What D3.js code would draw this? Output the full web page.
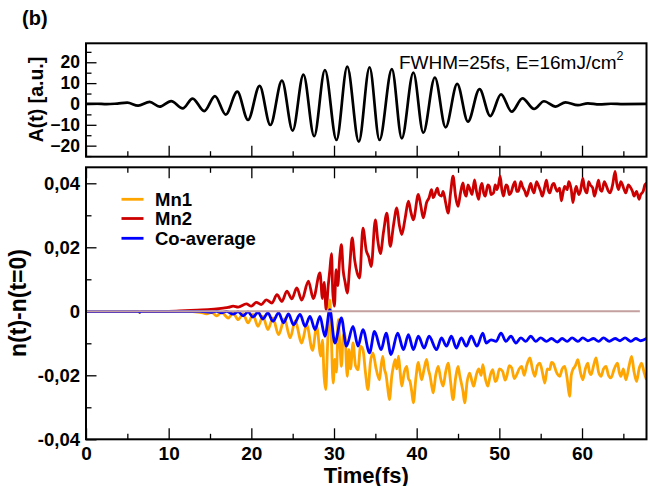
<!DOCTYPE html>
<html>
<head>
<meta charset="utf-8">
<script src="https://cdn.jsdelivr.net/npm/d3@7"></script>
<style>
  body { margin: 0; background: #fff; }
  svg { display: block; font-family: "Liberation Sans", Arial, sans-serif; }
</style>
</head>
<body>
<div id="chart"></div>
<script>
// ---- data ----
const timeMajor = [0, 10, 20, 30, 40, 50, 60];
const timeMinor = [5, 15, 25, 35, 45, 55, 65];
const fieldMajor = [-20, -10, 0, 10, 20];
const fieldMinor = [-25, -15, -5, 5, 15, 25];
const densMajor = [-0.04, -0.02, 0, 0.02, 0.04];
const densMinor = [-0.03, -0.01, 0.01, 0.03];
const densLabels = ['-0,04', '-0,02', '0', '0,02', '0,04'];

// A(t): extrema of the pulse [fs, a.u.]
const field = [[0,0],[1.2,0.1],[2.5,-0.1],[3.8,0.2],[5.0,0.6],[6.3,-0.8],[7.7,1.0],[8.9,-1.3],[10.3,1.4],
  [11.7,-2.1],[12.9,2.6],[14.3,-3.4],[15.6,3.8],[16.9,-5.1],[18.3,5.9],[19.6,-7.7],[21.0,8.7],[22.3,-10.1],
  [23.7,11.2],[25.0,-12.8],[26.3,14.1],[27.6,-15.5],[28.9,16.3],[30.3,-17.3],[31.6,17.9],[33.0,-18.1],
  [34.3,17.6],[35.5,-17.3],[37.0,16.7],[38.2,-16.5],[39.6,15.1],[40.8,-13.8],[42.2,12.7],[43.5,-11.2],
  [44.9,9.6],[46.2,-8.5],[47.6,7.1],[48.9,-5.8],[50.2,4.6],[51.5,-3.7],[52.8,2.7],[54.2,-2.4],[55.4,1.3],
  [56.8,-1.3],[58.0,0.8],[59.5,-0.6],[60.7,0.3],[62.1,-0.2],[63.5,0.1],[65.0,-0.1],[67.8,0]];

const mn2 = [[0,0],[10,0],[12,0.0002],[14,0.0004],[15.5,0.0007],[16.6,0.001],[17.2,0.0012],[17.8,0.0016],
  [18.4,0.0013],[19.4,0.0023],[20.0,0.0016],[20.6,0.0028],[21.2,0.0021],[21.8,0.0036],[22.5,0.0026],
  [23.1,0.0052],[23.7,0.0031],[24.3,0.0063],[24.9,0.0039],[25.5,0.0073],[26.1,0.0035],[26.9,0.0094],
  [27.5,0.0040],[28.3,0.012],[28.6,0.004],[28.8,0.009],[29.05,0.0005],[29.3,0.008],[29.5,0.013],
  [29.7,0.018],[29.85,0.006],[30.05,0.0016],[30.25,0.013],[30.45,0.008],[30.7,0.017],[30.9,0.0208],
  [31.1,0.013],[31.35,0.009],[31.6,0.0057],[31.9,0.014],[32.2,0.0229],[32.5,0.016],[32.8,0.012],
  [33.1,0.0104],[33.5,0.026],[33.9,0.019],[34.2,0.017],[34.5,0.014],[35.0,0.0286],[35.3,0.022],[35.6,0.018],
  [36.0,0.025],[36.4,0.0307],[36.8,0.0203],[37.2,0.027],[37.6,0.0323],[37.9,0.027],[38.2,0.024],[38.6,0.029],
  [39.0,0.0344],[39.3,0.031],[39.6,0.0286],[40.2,0.0365],[40.5,0.033],[40.8,0.0292],[41.2,0.034],
  [41.5,0.0355],[41.8,0.038],[42.0,0.0355],[42.2,0.0365],[42.5,0.0385],[42.7,0.0365],[43.0,0.036],
  [43.2,0.0375],[43.5,0.034],[43.8,0.0307],[44.1,0.037],[44.4,0.0422],[44.7,0.036],[45.0,0.0328],
  [45.3,0.037],[45.6,0.0401],[45.8,0.037],[46.0,0.036],[46.2,0.0395],[46.4,0.0385],[46.7,0.0365],
  [47.0,0.0411],[47.2,0.038],[47.5,0.035],[47.7,0.0385],[47.9,0.040],[48.1,0.037],[48.3,0.036],
  [48.6,0.0395],[48.8,0.039],[49.0,0.0365],[49.3,0.037],[49.5,0.0395],[49.7,0.038],[49.9,0.0395],
  [50.1,0.0422],[50.3,0.038],[50.5,0.036],[50.8,0.0395],[51.0,0.039],[51.2,0.0365],[51.4,0.037],
  [51.7,0.0395],[51.9,0.0405],[52.1,0.0375],[52.3,0.0375],[52.6,0.0405],[52.8,0.039],[53.1,0.0375],
  [53.3,0.036],[53.6,0.0385],[53.8,0.040],[54.0,0.038],[54.2,0.037],[54.5,0.0405],[54.7,0.0395],
  [55.0,0.0375],[55.2,0.036],[55.5,0.039],[55.7,0.041],[55.9,0.038],[56.1,0.037],[56.4,0.0395],
  [56.6,0.040],[56.8,0.0385],[57.0,0.0375],[57.3,0.0385],[57.5,0.0345],[57.7,0.037],[57.9,0.039],
  [58.2,0.038],[58.4,0.0405],[58.7,0.038],[58.9,0.034],[59.1,0.037],[59.3,0.039],[59.6,0.0365],
  [59.8,0.0375],[60.1,0.0415],[60.3,0.0385],[60.6,0.037],[60.8,0.0405],[61.0,0.0395],[61.3,0.0385],
  [61.5,0.036],[61.8,0.039],[62.0,0.041],[62.2,0.038],[62.4,0.0375],[62.7,0.0405],[62.9,0.0395],
  [63.2,0.0375],[63.4,0.037],[63.7,0.0395],[64.0,0.0437],[64.2,0.040],[64.4,0.038],[64.7,0.0405],
  [64.9,0.0395],[65.1,0.038],[65.3,0.037],[65.6,0.0395],[65.8,0.039],[66.1,0.0375],[66.3,0.036],
  [66.6,0.0375],[66.9,0.035],[67.1,0.0365],[67.4,0.0375],[67.6,0.0395],[67.8,0.040]];

const mn1 = [[0,0],[6.3,0],[6.5,-0.0004],[6.7,0],[12,0],[13.8,-0.0003],[14.6,-0.0008],[15.2,-0.0003],
  [15.8,-0.0014],[16.4,-0.0003],[17.2,-0.0021],[17.8,-0.0005],[18.4,-0.0026],[19.0,-0.0007],[19.6,-0.0036],
  [20.2,-0.001],[20.8,-0.0047],[21.4,-0.0016],[22.0,-0.0057],[22.6,-0.0021],[23.3,-0.0073],[24.0,-0.0024],
  [24.7,-0.0083],[25.3,-0.0031],[26.1,-0.0099],[26.7,-0.0042],[27.4,-0.0122],[27.9,-0.0047],[28.4,-0.014],
  [28.6,-0.009],[28.8,-0.0203],[29.0,-0.0245],[29.2,-0.012],[29.4,0.001],[29.5,0.0036],[29.65,-0.006],
  [29.9,-0.0224],[30.1,-0.015],[30.3,-0.019],[30.5,-0.0026],[30.7,-0.01],[30.9,-0.0172],[31.1,-0.008],
  [31.3,-0.0068],[31.6,-0.0203],[31.8,-0.012],[32.0,-0.018],[32.3,-0.0099],[32.6,-0.017],[32.9,-0.0183],
  [33.2,-0.011],[33.5,-0.012],[33.8,-0.019],[34.1,-0.0245],[34.4,-0.016],[34.7,-0.013],[35.1,-0.018],
  [35.5,-0.0214],[35.7,-0.017],[35.9,-0.0141],[36.1,-0.018],[36.3,-0.020],[36.5,-0.024],[36.7,-0.0276],
  [37.0,-0.020],[37.2,-0.017],[37.4,-0.0151],[37.6,-0.018],[37.8,-0.014],[38.0,-0.019],[38.2,-0.0234],
  [38.5,-0.019],[38.8,-0.0172],[39.0,-0.021],[39.2,-0.022],[39.4,-0.025],[39.6,-0.0286],[39.9,-0.021],
  [40.2,-0.016],[40.4,-0.019],[40.6,-0.0214],[40.9,-0.018],[41.2,-0.015],[41.4,-0.018],[41.6,-0.020],
  [41.8,-0.023],[42.0,-0.0255],[42.3,-0.020],[42.6,-0.0172],[42.9,-0.021],[43.2,-0.0234],[43.5,-0.019],
  [43.8,-0.0162],[44.1,-0.022],[44.4,-0.0276],[44.7,-0.021],[45.0,-0.0172],[45.2,-0.020],[45.4,-0.0224],
  [45.6,-0.025],[45.8,-0.0286],[46.1,-0.022],[46.4,-0.0193],[46.7,-0.022],[46.9,-0.0234],[47.2,-0.020],
  [47.5,-0.018],[47.8,-0.020],[48.0,-0.0167],[48.3,-0.021],[48.6,-0.0234],[48.9,-0.020],[49.2,-0.0182],
  [49.5,-0.022],[49.7,-0.0214],[50.0,-0.018],[50.4,-0.0188],[50.7,-0.0215],[50.9,-0.0203],[51.2,-0.017],
  [51.5,-0.0177],[51.8,-0.021],[52.1,-0.0198],[52.4,-0.018],[52.7,-0.0172],[53.0,-0.020],[53.3,-0.017],
  [53.7,-0.0146],[54.0,-0.018],[54.3,-0.0203],[54.6,-0.017],[54.9,-0.0162],[55.2,-0.019],[55.5,-0.0224],
  [55.8,-0.018],[56.1,-0.0182],[56.3,-0.016],[56.5,-0.0162],[56.9,-0.019],[57.3,-0.0203],[57.6,-0.018],
  [57.9,-0.0172],[58.2,-0.021],[58.5,-0.0266],[58.7,-0.020],[58.9,-0.0182],[59.2,-0.017],[59.5,-0.0151],
  [59.8,-0.019],[60.1,-0.0214],[60.4,-0.018],[60.7,-0.0162],[60.9,-0.019],[61.1,-0.0198],[61.4,-0.017],
  [61.7,-0.0146],[62.0,-0.019],[62.3,-0.0203],[62.6,-0.018],[62.9,-0.0172],[63.2,-0.020],[63.5,-0.0208],
  [63.9,-0.018],[64.3,-0.0162],[64.5,-0.019],[64.7,-0.0203],[65.0,-0.018],[65.3,-0.0214],[65.7,-0.017],
  [66.0,-0.0141],[66.3,-0.019],[66.6,-0.0219],[66.9,-0.018],[67.2,-0.0162],[67.5,-0.019],[67.8,-0.0214]];

const coAvg = [[0,0],[6.3,0],[6.5,-0.0003],[6.7,0],[13.8,0],[15.2,-0.0003],[15.8,0],[16.4,-0.0005],[17.0,0],
  [17.8,-0.0009],[18.4,-0.0001],[19.0,-0.0014],[19.6,-0.0002],[20.2,-0.0018],[20.8,-0.0003],[21.4,-0.0024],
  [22.0,-0.0005],[22.6,-0.0031],[23.3,-0.0005],[23.9,-0.0036],[24.5,-0.0008],[25.1,-0.0042],[25.9,-0.001],
  [26.5,-0.0047],[27.1,-0.0016],[27.7,-0.0057],[28.3,-0.0016],[28.9,-0.0078],[29.5,0.0005],[30.1,-0.0099],
  [30.9,-0.0021],[31.5,-0.0109],[32.3,-0.0047],[32.9,-0.0109],[33.5,-0.0057],[34.3,-0.013],[34.9,-0.0063],
  [35.7,-0.012],[36.3,-0.0068],[36.9,-0.0135],[37.7,-0.0068],[38.4,-0.012],[39.0,-0.0073],[39.6,-0.012],
  [40.2,-0.0078],[40.9,-0.0115],[41.5,-0.0078],[42.4,-0.012],[43.0,-0.0083],[43.6,-0.0109],[44.2,-0.0078],
  [44.8,-0.0115],[45.4,-0.0083],[46.0,-0.0109],[46.6,-0.0078],[47.3,-0.0109],[48.0,-0.0068],[48.4,-0.0099],
  [49.0,-0.0089],[49.6,-0.0094],[50.2,-0.0068],[50.8,-0.0094],[51.4,-0.0078],[52.0,-0.0099],[52.6,-0.0083],
  [53.2,-0.0094],[53.8,-0.0078],[54.4,-0.0094],[55.0,-0.0083],[55.7,-0.0094],[56.3,-0.0085],[57.0,-0.0096],
  [57.6,-0.0085],[58.2,-0.0094],[58.8,-0.0083],[59.5,-0.0094],[60.1,-0.0083],[60.7,-0.0092],[61.4,-0.0085],
  [62.0,-0.0094],[62.6,-0.0083],[63.3,-0.0094],[64.0,-0.0085],[64.6,-0.0092],[65.2,-0.0083],[65.9,-0.0094],
  [66.5,-0.0085],[67.1,-0.0092],[67.8,-0.0085]];

const seriesNames = ['Mn1', 'Mn2', 'Co-average'];
const seriesColors = ['#ffa500', '#cc0000', '#0000ff'];
const zeroSpan = [0, 67];

// ---- layout ----
const W = 648, H = 486;
const svg = d3.select('#chart').append('svg').attr('width', W).attr('height', H);

const x = d3.scaleLinear().domain([0, 67.8]).range([86, 646.5]);
const yA = d3.scaleLinear().domain([-25.3, 29.1]).range([156.7, 43.3]);
const yN = d3.scaleLinear().domain([-0.04, 0.045]).range([439.3, 167.3]);

svg.append('text').attr('x', 22).attr('y', 25).attr('font-size', 20).attr('font-weight', 'bold').text('(b)');

function styleAxis(g) {
  g.select('.domain').remove();
  g.selectAll('line').attr('stroke', '#000').attr('stroke-width', 1.3);
}

// top panel: A(t)
const topPanel = svg.append('g');
topPanel.append('g').attr('transform', `translate(0,${yA.range()[0]})`)
  .call(d3.axisBottom(x).tickValues(timeMajor).tickSize(-11).tickFormat('')).call(styleAxis);
topPanel.append('g').attr('transform', `translate(0,${yA.range()[0]})`)
  .call(d3.axisBottom(x).tickValues(timeMinor).tickSize(-5.5).tickFormat('')).call(styleAxis);
topPanel.append('g').attr('transform', `translate(${x(0)},0)`)
  .call(d3.axisLeft(yA).tickValues(fieldMajor).tickSize(-10.5).tickPadding(6).tickFormat(d3.format('d')))
  .call(styleAxis)
  .selectAll('text').attr('font-size', 17.5).attr('font-weight', 'bold').attr('fill', '#000')
  .attr('font-family', '"Liberation Sans", Arial, sans-serif');
topPanel.append('g').attr('transform', `translate(${x(0)},0)`)
  .call(d3.axisLeft(yA).tickValues(fieldMinor).tickSize(-5.5).tickFormat('')).call(styleAxis);

topPanel.append('path').datum(field)
  .attr('fill', 'none').attr('stroke', '#000').attr('stroke-width', 2.7)
  .attr('d', d3.line().x(d => x(d[0])).y(d => yA(d[1])).curve(d3.curveMonotoneX));

topPanel.append('rect').attr('x', x(0)).attr('y', yA.range()[1])
  .attr('width', x(67.8) - x(0)).attr('height', yA.range()[0] - yA.range()[1])
  .attr('fill', 'none').attr('stroke', '#000').attr('stroke-width', 2);

const note = topPanel.append('text').attr('x', 399).attr('y', 68.5).attr('font-size', 19);
note.append('tspan').text('FWHM=25fs, E=16mJ/cm');
note.append('tspan').attr('font-size', 12.5).attr('dy', -8.5).text('2');

topPanel.append('text').attr('transform', 'translate(42.5,99.5) rotate(-90)')
  .attr('text-anchor', 'middle').attr('font-size', 19.5).attr('font-weight', 'bold').text('A(t) [a.u.]');

// bottom panel: n(t)-n(t=0)
const bot = svg.append('g');
bot.append('defs').append('clipPath').attr('id', 'clipN').append('rect')
  .attr('x', x(0)).attr('y', yN.range()[1]).attr('width', x(67.8) - x(0))
  .attr('height', yN.range()[0] - yN.range()[1]);

bot.append('g').attr('transform', `translate(0,${yN.range()[0]})`)
  .call(d3.axisBottom(x).tickValues(timeMajor).tickSize(-11).tickPadding(7.5).tickFormat(d3.format('d')))
  .call(styleAxis)
  .selectAll('text').attr('font-size', 19).attr('font-weight', 'bold').attr('fill', '#000')
  .attr('font-family', '"Liberation Sans", Arial, sans-serif');
bot.append('g').attr('transform', `translate(0,${yN.range()[0]})`)
  .call(d3.axisBottom(x).tickValues(timeMinor).tickSize(-5.5).tickFormat('')).call(styleAxis);
bot.append('g').attr('transform', `translate(0,${yN.range()[1]})`)
  .call(d3.axisTop(x).tickValues(timeMajor).tickSize(-11).tickFormat('')).call(styleAxis);
bot.append('g').attr('transform', `translate(0,${yN.range()[1]})`)
  .call(d3.axisTop(x).tickValues(timeMinor).tickSize(-5.5).tickFormat('')).call(styleAxis);
bot.append('g').attr('transform', `translate(${x(0)},0)`)
  .call(d3.axisLeft(yN).tickValues(densMajor).tickSize(-10.5).tickPadding(6)
    .tickFormat((d, i) => densLabels[i]))
  .call(styleAxis)
  .selectAll('text').attr('font-size', 18.5).attr('font-weight', 'bold').attr('fill', '#000')
  .attr('font-family', '"Liberation Sans", Arial, sans-serif');
bot.append('g').attr('transform', `translate(${x(0)},0)`)
  .call(d3.axisLeft(yN).tickValues(densMinor).tickSize(-5.5).tickFormat('')).call(styleAxis);

const lineN = d3.line().x(d => x(d[0])).y(d => yN(d[1])).curve(d3.curveMonotoneX);
const plot = bot.append('g').attr('clip-path', 'url(#clipN)');
// drawing order: Mn2 under Mn1 under Co-average
[[mn2, 1], [mn1, 0], [coAvg, 2]].forEach(([data, k]) => {
  plot.append('path').datum(data)
    .attr('fill', 'none').attr('stroke', seriesColors[k]).attr('stroke-width', 2.8)
    .attr('stroke-linejoin', 'round').attr('d', lineN);
});
plot.append('line')
  .attr('x1', x(zeroSpan[0])).attr('x2', x(zeroSpan[1]))
  .attr('y1', yN(0)).attr('y2', yN(0))
  .attr('stroke', '#c4a0a0').attr('stroke-width', 2);

bot.append('rect').attr('x', x(0)).attr('y', yN.range()[1])
  .attr('width', x(67.8) - x(0)).attr('height', yN.range()[0] - yN.range()[1])
  .attr('fill', 'none').attr('stroke', '#000').attr('stroke-width', 2);

const legend = bot.append('g').selectAll('g').data(seriesNames).join('g')
  .attr('transform', (d, i) => `translate(121.5,${[199.3, 218.5, 238.3][i]})`);
legend.append('line').attr('x1', 0).attr('x2', 22)
  .attr('stroke', (d, i) => seriesColors[i]).attr('stroke-width', 2.8);
legend.append('text').attr('x', 33.5).attr('y', 6.8)
  .attr('font-size', 18.5).attr('font-weight', 'bold').text(d => d);

bot.append('text').attr('transform', 'translate(25.5,303) rotate(-90)')
  .attr('text-anchor', 'middle').attr('font-size', 23).attr('font-weight', 'bold').text('n(t)-n(t=0)');

svg.append('text').attr('x', (x(0) + x(67.8)) / 2).attr('y', 482.5)
  .attr('text-anchor', 'middle').attr('font-size', 22).attr('font-weight', 'bold').text('Time(fs)');
</script>
</body>
</html>
